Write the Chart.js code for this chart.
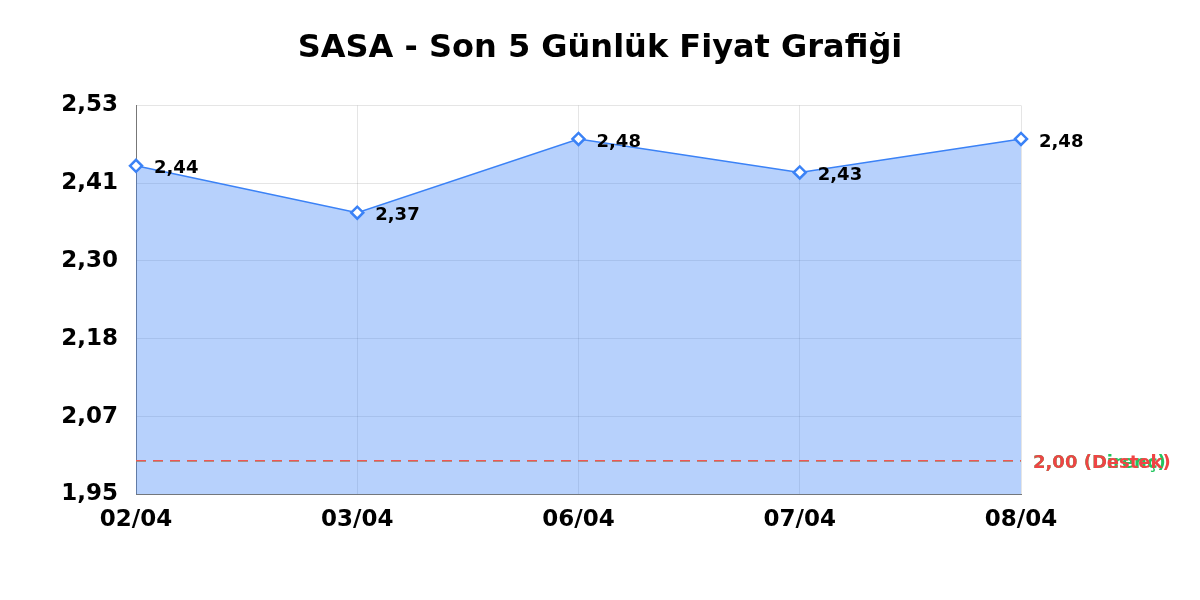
<!DOCTYPE html>
<html>
<head>
<meta charset="utf-8">
<script src="https://cdn.jsdelivr.net/npm/chart.js@4"></script>
<style>
  html, body { margin: 0; padding: 0; background: #fff; }
  #wrap { width: 1200px; height: 600px; }
</style>
</head>
<body>
<div id="wrap"><canvas id="chart" width="1200" height="600"></canvas></div>
<script>
const labels = ["02/04", "03/04", "06/04", "07/04", "08/04"];
const prices = [2.44, 2.37, 2.48, 2.43, 2.48];
const supportLevel = 2.0;
const resistanceLevel = 2.0;
const yMin = 1.95;
const yMax = 2.53;

const fmt = (v) => Number(v).toFixed(2).replace(".", ",");

const font = "'DejaVu Sans', sans-serif";

const levelLines = [
  { value: resistanceLevel, text: "Direnç", color: "#22c55e" },
  { value: supportLevel, text: "Destek", color: "#ef4444" },
];

// value labels next to points and text for the level lines
const labelPlugin = {
  id: "labelPlugin",
  afterDatasetsDraw(chart) {
    const ctx = chart.ctx;
    const y = chart.scales.y;
    const area = chart.chartArea;
    ctx.save();
    ctx.font = "bold 18px " + font;
    ctx.textBaseline = "middle";
    ctx.textAlign = "left";
    ctx.fillStyle = "#000";
    chart.getDatasetMeta(0).data.forEach((pt, i) => {
      ctx.fillText(fmt(prices[i]), pt.x + 18, pt.y + 3);
    });
    levelLines.forEach((l) => {
      ctx.fillStyle = l.color;
      ctx.fillText(fmt(l.value) + " (" + l.text + ")", area.right + 12, y.getPixelForValue(l.value) + 2);
    });
    ctx.restore();
  },
};

new Chart(document.getElementById("chart"), {
  type: "line",
  data: {
    labels,
    datasets: [
      {
        label: "SASA",
        data: prices,
        borderColor: "#3b82f6",
        backgroundColor: "rgba(59, 130, 246, 0.37)",
        borderWidth: 1.5,
        fill: "start",
        tension: 0,
        pointStyle: "rectRot",
        pointRadius: 6,
        pointBorderWidth: 2.5,
        pointBackgroundColor: "#fff",
        pointBorderColor: "#3b82f6",
        order: 3,
      },
      {
        label: "Direnç",
        data: labels.map(() => resistanceLevel),
        borderColor: "#22c55e",
        borderWidth: 1.5,
        borderDash: [10, 7],
        pointRadius: 0,
        fill: false,
        order: 2,
      },
      {
        label: "Destek",
        data: labels.map(() => supportLevel),
        borderColor: "#ef5555",
        borderWidth: 1.5,
        borderDash: [10, 7],
        pointRadius: 0,
        fill: false,
        order: 1,
      },
    ],
  },
  options: {
    responsive: false,
    animation: false,
    layout: { padding: { left: 0, right: 0, top: 0, bottom: 54 } },
    plugins: {
      legend: { display: false },
      tooltip: { enabled: false },
      title: {
        display: true,
        text: "SASA - Son 5 Günlük Fiyat Grafiği",
        color: "#000",
        font: { family: font, size: 32, weight: "bold" },
        padding: { top: 29, bottom: 38 },
      },
    },
    scales: {
      x: {
        offset: false,
        grid: { color: "rgba(0,0,0,0.1)", drawTicks: false },
        border: { color: "#777" },
        ticks: {
          color: "#000",
          padding: 12,
          maxRotation: 0,
          font: { family: font, size: 23, weight: "bold" },
        },
      },
      y: {
        min: yMin,
        max: yMax,
        afterBuildTicks(scale) {
          const step = (yMax - yMin) / 5;
          scale.ticks = [0, 1, 2, 3, 4, 5].map((i) => ({ value: yMin + step * i }));
        },
        afterFit(scale) {
          scale.width = 136;
        },
        grid: { color: "rgba(0,0,0,0.1)", drawTicks: false },
        border: { color: "#777" },
        ticks: {
          color: "#000",
          padding: 18,
          font: { family: font, size: 23, weight: "bold" },
          callback: (v) => fmt(v),
        },
      },
      // empty right axis, only reserves room for the level labels
      yRight: {
        position: "right",
        min: yMin,
        max: yMax,
        afterFit(scale) {
          scale.width = 179;
        },
        grid: { drawOnChartArea: false, drawTicks: false },
        border: { display: false },
        ticks: { display: false },
      },
    },
  },
  plugins: [labelPlugin],
});
</script>
</body>
</html>
